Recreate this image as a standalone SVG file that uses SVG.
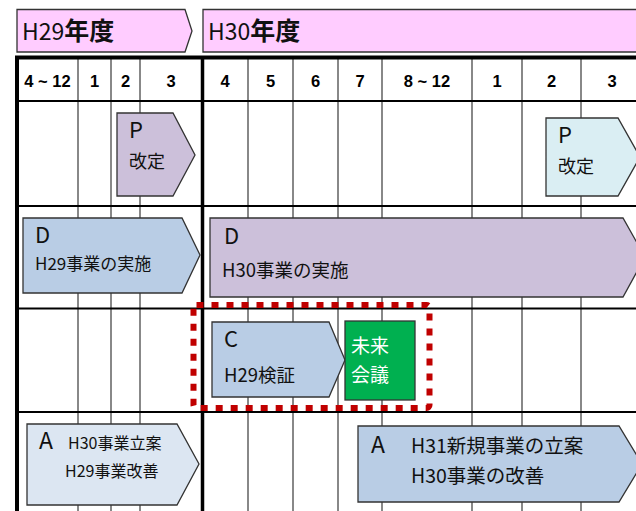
<svg xmlns="http://www.w3.org/2000/svg" width="636" height="511" viewBox="0 0 636 511">
<style>
.jp{font-family:"Noto Sans CJK JP","Noto Sans",sans-serif;fill:#111}
.num{font-family:"Liberation Sans",Arial,sans-serif;font-weight:bold;font-size:16.5px;fill:#000;text-anchor:middle}
.gl{stroke:#888;stroke-width:2}
.hl{stroke:#000;stroke-width:2}
.sh{stroke:#333;stroke-width:1.3}
.ban{fill:#FFCCFF;stroke:#333;stroke-width:1.3}
</style>
<rect width="636" height="511" fill="#fff"/>
<g id="banner-h29">
<polygon class="ban" points="17,9.5 185,9.5 192,31 185,52 17,52"/>
<text class="jp" x="22" y="40" font-size="23">H29<tspan font-weight="bold" font-size="25">年度</tspan></text>
</g>
<g id="banner-h30">
<polygon class="ban" points="203,9.5 645,9.5 652,31 645,52 203,52"/>
<text class="jp" x="208" y="40" font-size="23">H30<tspan font-weight="bold" font-size="25">年度</tspan></text>
</g>
<g id="grid">
<line class="gl" x1="78" y1="58" x2="78" y2="511"/>
<line class="gl" x1="111" y1="58" x2="111" y2="511"/>
<line class="gl" x1="140" y1="58" x2="140" y2="511"/>
<line class="gl" x1="248" y1="58" x2="248" y2="511"/>
<line class="gl" x1="293" y1="58" x2="293" y2="511"/>
<line class="gl" x1="338" y1="58" x2="338" y2="511"/>
<line class="gl" x1="382" y1="58" x2="382" y2="511"/>
<line class="gl" x1="472" y1="58" x2="472" y2="511"/>
<line class="gl" x1="522" y1="58" x2="522" y2="511"/>
<line class="gl" x1="581" y1="58" x2="581" y2="511"/>
<line class="hl" x1="17" y1="101" x2="636" y2="101"/>
<line class="hl" x1="17" y1="206" x2="636" y2="206"/>
<line class="hl" x1="17" y1="308.5" x2="636" y2="308.5"/>
<line class="hl" x1="17" y1="412" x2="636" y2="412"/>
<line stroke="#000" stroke-width="4" x1="15" y1="57.5" x2="636" y2="57.5"/>
<line stroke="#000" stroke-width="4" x1="17" y1="56" x2="17" y2="511"/>
<line stroke="#000" stroke-width="3.5" x1="202.5" y1="56" x2="202.5" y2="511"/>
<text class="num" x="47.5" y="87">4 ~ 12</text>
<text class="num" x="94.5" y="87">1</text>
<text class="num" x="125.5" y="87">2</text>
<text class="num" x="171" y="87">3</text>
<text class="num" x="225" y="87">4</text>
<text class="num" x="270.5" y="87">5</text>
<text class="num" x="315.5" y="87">6</text>
<text class="num" x="360" y="87">7</text>
<text class="num" x="427" y="87">8 ~ 12</text>
<text class="num" x="497" y="87">1</text>
<text class="num" x="551.5" y="87">2</text>
<text class="num" x="612" y="87">3</text>
</g>
<g id="P1">
<polygon class="sh" fill="#CCC0DA" points="117,113 173,113 195,155 173,196 117,196"/>
<text class="jp" x="129" y="138" font-size="22">P</text>
<text class="jp" x="129" y="168" font-size="18">改定</text>
</g>
<g id="P2">
<polygon class="sh" fill="#DAEEF3" points="546,118 618,118 640,157 618,196 546,196"/>
<text class="jp" x="558" y="143" font-size="22">P</text>
<text class="jp" x="558" y="173" font-size="18">改定</text>
</g>
<g id="D1">
<polygon class="sh" fill="#B9CDE5" points="23,218 182,218 200,255 182,293 23,293"/>
<text class="jp" x="35" y="243" font-size="22">D</text>
<text class="jp" x="35" y="270" font-size="17">H29事業の実施</text>
</g>
<g id="D2">
<polygon class="sh" fill="#CCC0DA" points="210,218 623,218 645,257 623,297 210,297"/>
<text class="jp" x="224" y="244" font-size="22">D</text>
<text class="jp" x="222" y="277" font-size="18.5">H30事業の実施</text>
</g>
<g id="C">
<polygon class="sh" fill="#B9CDE5" points="212,322 329,322 345,360 329,397 212,397"/>
<text class="jp" x="224" y="347" font-size="22">C</text>
<text class="jp" x="224" y="382" font-size="18.5">H29検証</text>
</g>
<g id="mirai">
<rect class="sh" fill="#00B050" x="345" y="321" width="70" height="79"/>
<text class="jp" x="351" y="353" font-size="19" style="fill:#fff">未来</text>
<text class="jp" x="351" y="382" font-size="19" style="fill:#fff">会議</text>
</g>
<g id="A1">
<polygon class="sh" fill="#DCE6F2" points="27,424 177,424 199,464 177,505 27,505"/>
<text class="jp" x="39" y="449" font-size="23">A</text>
<text class="jp" x="68" y="449" font-size="16">H30事業立案</text>
<text class="jp" x="65" y="477" font-size="16">H29事業改善</text>
</g>
<g id="A2">
<polygon class="sh" fill="#B9CDE5" points="358,426 619,426 642,464 619,502 358,502"/>
<text class="jp" x="371" y="453" font-size="23">A</text>
<text class="jp" x="411" y="453" font-size="19.5">H31新規事業の立案</text>
<text class="jp" x="411" y="483" font-size="19.5">H30事業の改善</text>
</g>
<g id="connectors">
<rect x="193.5" y="305" width="236" height="103" rx="3" fill="none" stroke="#C00000" stroke-width="6" stroke-dasharray="7 8"/>
</g>
</svg>
